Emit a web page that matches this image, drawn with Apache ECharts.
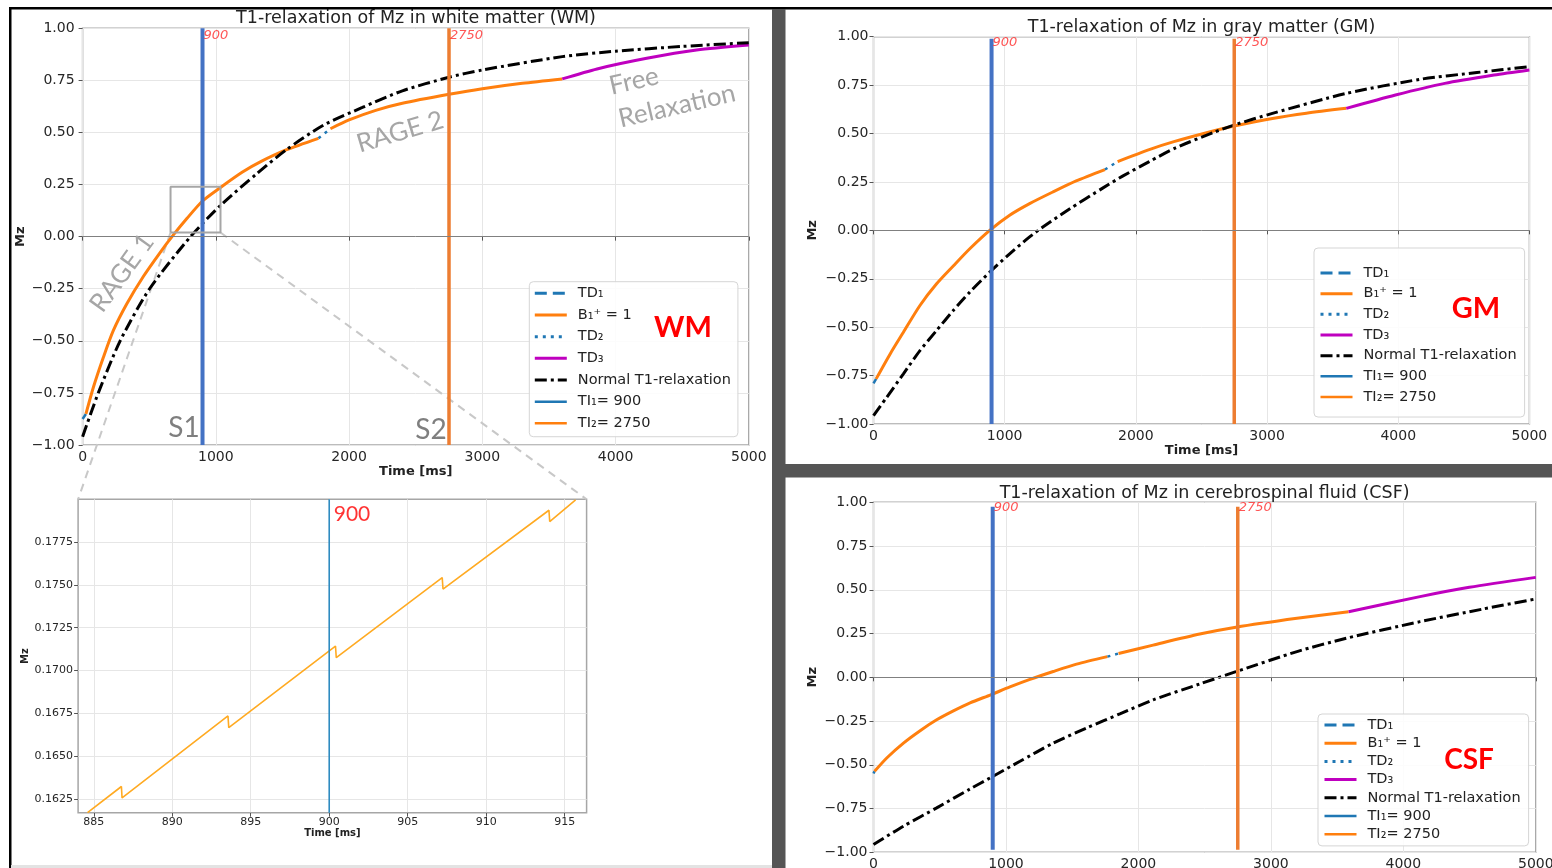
<!DOCTYPE html>
<html><head><meta charset="utf-8">
<script src="https://cdn.jsdelivr.net/npm/echarts@6/dist/echarts.min.js"></script>
<style>html,body{margin:0;padding:0;background:#fff}#c{width:1552px;height:868px}</style>
</head><body><div id="c"></div>
<script>
// ---------------- DATA ----------------
const inversionTimes = [900, 2750];
const axisTimeRange = [0, 5000];
const axisMzRange = [-1, 1];

// White matter (WM)
const wmNormalT  = [0, 118, 282, 503, 810, 1035, 1312, 1527, 1807, 2100, 2400, 2750, 3000, 3600, 4000, 4500, 5000];
const wmNormalMz = [-0.96, -0.75, -0.50, -0.25, 0.0, 0.15, 0.305, 0.416, 0.535, 0.62, 0.70, 0.765, 0.80, 0.864, 0.89, 0.913, 0.931];
const wmTD1T  = [0, 25];
const wmTD1Mz = [-0.875, -0.851];
const wmRage1T  = [25, 81, 156, 231, 332, 457, 583, 671, 784, 900, 1035, 1200, 1337, 1527, 1770];
const wmRage1Mz = [-0.851, -0.723, -0.579, -0.450, -0.322, -0.19, -0.075, 0.0, 0.088, 0.171, 0.236, 0.31, 0.36, 0.416, 0.472];
const wmTD2T  = [1770, 1860];
const wmTD2Mz = [0.472, 0.518];
const wmRage2T  = [1860, 2000, 2200, 2400, 2750, 3000, 3300, 3600];
const wmRage2Mz = [0.518, 0.56, 0.606, 0.64, 0.683, 0.71, 0.736, 0.757];
const wmTD3T  = [3600, 3861, 4234, 4608, 5000];
const wmTD3Mz = [0.757, 0.805, 0.856, 0.896, 0.92];
const wmTISpan = [-1, 1];

// Gray matter (GM)
const gmNormalT  = [0, 101, 228, 354, 481, 608, 734, 886, 1038, 1190, 1291, 1494, 1747, 1899, 2102, 2300, 2590, 2750, 3041, 3604, 4167, 4600, 5000];
const gmNormalMz = [-0.957, -0.862, -0.741, -0.621, -0.517, -0.414, -0.319, -0.216, -0.121, -0.034, 0.017, 0.11, 0.218, 0.28, 0.355, 0.425, 0.505, 0.544, 0.604, 0.707, 0.78, 0.815, 0.845];
const gmTD1T  = [0, 20];
const gmTD1Mz = [-0.79, -0.767];
const gmRage1T  = [20, 127, 228, 354, 481, 608, 734, 886, 1038, 1190, 1367, 1545, 1764];
const gmRage1Mz = [-0.767, -0.638, -0.526, -0.388, -0.276, -0.184, -0.095, 0.0, 0.078, 0.138, 0.198, 0.255, 0.314];
const gmTD2T  = [1764, 1861];
const gmTD2Mz = [0.314, 0.355];
const gmRage2T  = [1861, 2102, 2290, 2590, 2750, 3041, 3300, 3604];
const gmRage2Mz = [0.355, 0.417, 0.458, 0.513, 0.539, 0.578, 0.605, 0.63];
const gmTD3T  = [3604, 3979, 4355, 4730, 5000];
const gmTD3Mz = [0.63, 0.699, 0.759, 0.802, 0.828];
const gmTISpan = [-1, 0.99];

// Cerebrospinal fluid (CSF)
const csfNormalT  = [0, 226, 477, 729, 885, 1106, 1357, 1608, 1860, 2111, 2463, 2736, 3197, 3569, 4126, 4600, 5000];
const csfNormalMz = [-0.955, -0.851, -0.746, -0.638, -0.573, -0.48, -0.376, -0.29, -0.209, -0.129, -0.038, 0.032, 0.147, 0.223, 0.318, 0.39, 0.448];
const csfTD1T  = [0, 8];
const csfTD1Mz = [-0.55, -0.537];
const csfRage1T  = [8, 100, 226, 352, 477, 603, 729, 885, 1030, 1181, 1357, 1533, 1766];
const csfRage1Mz = [-0.537, -0.461, -0.376, -0.305, -0.243, -0.192, -0.146, -0.10, -0.055, -0.012, 0.033, 0.075, 0.118];
const csfTD2T  = [1766, 1850];
const csfTD2Mz = [0.118, 0.136];
const csfRage2T  = [1850, 2111, 2463, 2736, 3197, 3587];
const csfRage2Mz = [0.136, 0.184, 0.247, 0.286, 0.337, 0.375];
const csfTD3T  = [3587, 4126, 4498, 5000];
const csfTD3Mz = [0.375, 0.461, 0.514, 0.571];
const csfTISpan = [-0.985, 0.975];

// Zoomed inset (WM around TI1)
const insetT  = [884.6, 886.76, 886.8, 893.55, 893.6, 900.4, 900.45, 907.2, 907.25, 914.0, 914.05, 915.7];
const insetMz = [0.1617, 0.16323, 0.16256, 0.16735, 0.16667, 0.17143, 0.17075, 0.17543, 0.17476, 0.17936, 0.1787, 0.17997];
const insetXRange = [884, 916.4];
const insetYRange = [0.1617, 0.1800];
const insetXTicks = [885, 890, 895, 900, 905, 910, 915];
const insetYTicks = [0.1625, 0.1650, 0.1675, 0.1700, 0.1725, 0.1750, 0.1775];
const zoomBoxT  = [660, 1035];
const zoomBoxMz = [0.02, 0.24];

const mainXTicksInterval = 1000;
const mainYTicksInterval = 0.25;

// ---------------- STYLE ----------------
const FONT = 'DejaVu Sans';
const AFONT = 'Lato';
const C_ORANGE = '#ff7f0e', C_BLUE = '#1f77b4', C_MAG = '#bf00bf', C_TI1 = '#4472c4', C_TI2 = '#ed7d31';
const NAME_TD1 = 'TD\u2081', NAME_B1 = 'B\u2081\u207A = 1', NAME_TD2 = 'TD\u2082', NAME_TD3 = 'TD\u2083';
const NAME_NORM = 'Normal T1-relaxation';
const NAME_TI1 = 'TI\u2081= ' + inversionTimes[0], NAME_TI2 = 'TI\u2082= ' + inversionTimes[1];

const zip = (xs, ys) => xs.map((x, i) => [x, ys[i]]);
const fmtMz = v => (v < 0 ? '\u2212' : '') + Math.abs(v).toFixed(2);

function line(name, gi, data, color, width, type, extra) {
  return Object.assign({
    type: 'line', name, xAxisIndex: gi, yAxisIndex: gi, data,
    showSymbol: false, symbol: 'none', smooth: 0.25,
    lineStyle: { color, width, type, cap: 'butt' }, itemStyle: { color },
    emphasis: { disabled: true }, silent: true, animation: false, z: 3
  }, extra || {});
}

const panels = [
  { gi: 0, normal: [wmNormalT, wmNormalMz], td1: [wmTD1T, wmTD1Mz], r1: [wmRage1T, wmRage1Mz], td2: [wmTD2T, wmTD2Mz], r2: [wmRage2T, wmRage2Mz], td3: [wmTD3T, wmTD3Mz], span: wmTISpan, lblOff: 1 },
  { gi: 2, normal: [gmNormalT, gmNormalMz], td1: [gmTD1T, gmTD1Mz], r1: [gmRage1T, gmRage1Mz], td2: [gmTD2T, gmTD2Mz], r2: [gmRage2T, gmRage2Mz], td3: [gmTD3T, gmTD3Mz], span: gmTISpan, lblOff: 0 },
  { gi: 3, normal: [csfNormalT, csfNormalMz], td1: [csfTD1T, csfTD1Mz], r1: [csfRage1T, csfRage1Mz], td2: [csfTD2T, csfTD2Mz], r2: [csfRage2T, csfRage2Mz], td3: [csfTD3T, csfTD3Mz], span: csfTISpan, lblOff: -1 }
];

const series = [];
panels.forEach(p => {
  const gi = p.gi;
  series.push(line(NAME_TD1, gi, zip(...p.td1), C_BLUE, 2.5, 'dashed', {
    smooth: false,
    markLine: { silent: true, symbol: 'none', label: { show: false }, animation: false,
      lineStyle: { color: '#808080', width: 1, type: 'solid' }, data: [{ yAxis: 0 }] }
  }));
  series.push(line(NAME_B1, gi, zip(...p.r1), C_ORANGE, 3, 'solid'));
  series.push(line(NAME_TD2, gi, zip(...p.td2), C_BLUE, 2.5, [3, 5], { smooth: false }));
  series.push(line(NAME_B1, gi, zip(...p.r2), C_ORANGE, 3, 'solid'));
  series.push(line(NAME_TD3, gi, zip(...p.td3), C_MAG, 3, 'solid'));
  series.push(line(NAME_NORM, gi, zip(...p.normal), '#000000', 3, [12, 4, 3, 4]));
  series.push(line(NAME_TI1, gi, [[inversionTimes[0], p.span[0]], [inversionTimes[0], p.span[1]]], C_TI1, 4, 'solid', { smooth: false, z: 4 }));
  series.push(line(NAME_TI2, gi, [[inversionTimes[1], p.span[0]], [inversionTimes[1], p.span[1]]], C_TI2, 3.5, 'solid', { smooth: false, z: 4 }));
  series.push({
    type: 'scatter', xAxisIndex: gi, yAxisIndex: gi, silent: true, animation: false, z: 5,
    symbol: 'circle', symbolSize: 1, itemStyle: { color: 'rgba(0,0,0,0)' },
    data: inversionTimes.map(t => [t, axisMzRange[1]]),
    label: { show: true, position: [1.5, p.lblOff], align: 'left', verticalAlign: 'top',
      formatter: d => String(d.value[0]), color: '#ff2a2a', fontStyle: 'italic', fontSize: 13, fontFamily: FONT }
  });
});

// zoom box in WM
series.push(line('zoombox', 0,
  [[zoomBoxT[0], zoomBoxMz[0]], [zoomBoxT[1], zoomBoxMz[0]], [zoomBoxT[1], zoomBoxMz[1]], [zoomBoxT[0], zoomBoxMz[1]], [zoomBoxT[0], zoomBoxMz[0]]],
  '#a6a6a6', 2, 'solid', { smooth: false, z: 4 }));

// inset
series.push(line('inset', 1, zip(insetT, insetMz), '#ffaa22', 1.6, 'solid', { smooth: false }));
series.push(line('insetTI', 1, [[inversionTimes[0], insetYRange[0]], [inversionTimes[0], insetYRange[1]]], '#2e8bc0', 1.6, 'solid', { smooth: false, z: 4 }));
series.push({
  type: 'scatter', xAxisIndex: 1, yAxisIndex: 1, silent: true, animation: false, z: 5,
  symbol: 'circle', symbolSize: 1, itemStyle: { color: 'rgba(0,0,0,0)' },
  data: [[inversionTimes[0], insetYRange[1]]],
  label: { show: true, position: [5, 5], align: 'left', verticalAlign: 'top',
    formatter: d => String(d.value[0]), color: '#ff0000', fontSize: 21, fontFamily: AFONT }
});

// ---------------- AXES ----------------
const gridDefs = [
  { left: 82.6, top: 28.3, width: 666.2, height: 416.7 },
  { left: 78.1, top: 499.3, width: 508.5, height: 313.4 },
  { left: 873.5, top: 36.7, width: 655.9, height: 387.3 },
  { left: 873.5, top: 502.3, width: 662.3, height: 350 }
];
const grid = gridDefs.map(g => Object.assign({ show: true, borderColor: '#a6a6a6', borderWidth: 1.5, backgroundColor: 'transparent', containLabel: false, outerBoundsMode: 'none' }, g));

const tickStyle = { show: true, length: 4, lineStyle: { color: '#555', width: 1 } };
const splitStyle = { show: true, lineStyle: { color: '#e6e6e6', width: 1 } };
const nameStyle = (fs) => ({ fontFamily: FONT, fontWeight: 'bold', fontSize: fs, color: '#222' });

function mainX(gi, nameGap) {
  return { gridIndex: gi, type: 'value', min: axisTimeRange[0], max: axisTimeRange[1], interval: mainXTicksInterval,
    name: 'Time [ms]', nameLocation: 'middle', nameGap, nameTextStyle: nameStyle(13),
    axisLine: { show: false }, axisTick: tickStyle, splitLine: splitStyle,
    axisLabel: { fontFamily: FONT, fontSize: 14, color: '#262626', margin: 5, formatter: v => String(v) } };
}
function mainY(gi, nameGap, margin) {
  return { gridIndex: gi, type: 'value', min: axisMzRange[0], max: axisMzRange[1], interval: mainYTicksInterval,
    name: 'Mz', nameLocation: 'middle', nameGap, nameTextStyle: nameStyle(13),
    axisLine: { show: false }, axisTick: tickStyle, splitLine: splitStyle,
    axisLabel: { fontFamily: FONT, fontSize: 14, color: '#262626', margin, formatter: fmtMz } };
}
const xAxis = [
  mainX(0, 19),
  { gridIndex: 1, type: 'value', min: insetXRange[0], max: insetXRange[1],
    name: 'Time [ms]', nameLocation: 'middle', nameGap: 13, nameTextStyle: nameStyle(10),
    axisLine: { show: false }, axisTick: Object.assign({ customValues: insetXTicks }, tickStyle), splitLine: splitStyle,
    axisLabel: { customValues: insetXTicks, fontFamily: FONT, fontSize: 11, color: '#262626', margin: 4, formatter: v => String(v) } },
  mainX(2, 17),
  mainX(3, 18)
];
const yAxis = [
  mainY(0, 55, 8),
  { gridIndex: 1, type: 'value', min: insetYRange[0], max: insetYRange[1],
    name: 'Mz', nameLocation: 'middle', nameGap: 46, nameTextStyle: nameStyle(10),
    axisLine: { show: false }, axisTick: Object.assign({ customValues: insetYTicks }, tickStyle), splitLine: splitStyle,
    axisLabel: { customValues: insetYTicks, fontFamily: FONT, fontSize: 11, color: '#262626', margin: 5, formatter: v => v.toFixed(4) } },
  mainY(2, 54, 5),
  mainY(3, 54, 6)
];

// ---------------- LEGENDS ----------------
const legendData = [NAME_TD1, NAME_B1, NAME_TD2, NAME_TD3, NAME_NORM,
  { name: NAME_TI1, lineStyle: { color: C_BLUE, width: 2.5 } },
  { name: NAME_TI2, lineStyle: { color: C_ORANGE, width: 2.5 } }];
function legendCfg(left, top, gap, padding) {
  return { orient: 'vertical', left, top, itemGap: gap, itemWidth: 32, itemHeight: 14, padding,
    backgroundColor: 'rgba(255,255,255,0.85)', borderColor: '#d5d5d5', borderWidth: 1, borderRadius: 4,
    selectedMode: false, itemStyle: { opacity: 0 }, lineStyle: { width: 3 },
    textStyle: { fontFamily: FONT, fontSize: 14.5, color: '#222', lineHeight: 16, padding: [0, 0, 0, 6] },
    data: legendData };
}
const legend = [
  legendCfg(529.3, 281.7, 5.67, [3.6, 7, 5.4, 4]),
  legendCfg(1314, 248, 4.67, [17, 8, 12, 5]),
  legendCfg(1318, 714, 2.2, [3, 8, 3.7, 5])
];

const titleStyle = { fontFamily: FONT, fontSize: 17.5, fontWeight: 'normal', color: '#222' };
const title = [
  { text: 'T1-relaxation of Mz in white matter (WM)', left: 416, top: 9, textAlign: 'center', padding: 0, textStyle: titleStyle },
  { text: 'T1-relaxation of Mz in gray matter (GM)', left: 1201.5, top: 18, textAlign: 'center', padding: 0, textStyle: titleStyle },
  { text: 'T1-relaxation of Mz in cerebrospinal fluid (CSF)', left: 1204.6, top: 484, textAlign: 'center', padding: 0, textStyle: titleStyle }
];

const chart = echarts.init(document.getElementById('c'), null, { renderer: 'canvas', width: 1552, height: 868 });
chart.setOption({ animation: false, backgroundColor: '#ffffff', title, legend, grid, xAxis, yAxis, series });

// ---------------- DECORATION ----------------
const bl = chart.convertToPixel({ gridIndex: 0 }, [zoomBoxT[0], zoomBoxMz[0]]);
const br = chart.convertToPixel({ gridIndex: 0 }, [zoomBoxT[1], zoomBoxMz[0]]);
const itl = chart.convertToPixel({ gridIndex: 1 }, [insetXRange[0], insetYRange[1]]);
const itr = chart.convertToPixel({ gridIndex: 1 }, [insetXRange[1], insetYRange[1]]);

function txt(text, x, y, rotDeg, size, color, weight) {
  return { type: 'text', x, y, rotation: rotDeg * Math.PI / 180, silent: true, z: 6,
    style: { text, fontFamily: AFONT, fontSize: size, fontWeight: weight || 'normal', fill: color, align: 'center', verticalAlign: 'middle' } };
}
const graphic = [
  { type: 'rect', silent: true, z: 10, shape: { x: 9, y: 7, width: 1543, height: 2.5 }, style: { fill: '#000' } },
  { type: 'rect', silent: true, z: 10, shape: { x: 9, y: 7, width: 2.5, height: 861 }, style: { fill: '#000' } },
  { type: 'rect', silent: true, z: 10, shape: { x: 772, y: 9, width: 13.5, height: 859 }, style: { fill: '#555555' } },
  { type: 'rect', silent: true, z: 10, shape: { x: 785, y: 464, width: 767, height: 13.5 }, style: { fill: '#555555' } },
  { type: 'rect', silent: true, z: 10, shape: { x: 11, y: 865, width: 761, height: 3 }, style: { fill: '#e3e3e3' } },
  { type: 'line', silent: true, z: 1, shape: { x1: bl[0], y1: bl[1], x2: itl[0], y2: itl[1] }, style: { stroke: '#c8c8c8', lineWidth: 2, lineDash: [8, 6] } },
  { type: 'line', silent: true, z: 1, shape: { x1: br[0], y1: br[1], x2: itr[0], y2: itr[1] }, style: { stroke: '#c8c8c8', lineWidth: 2, lineDash: [8, 6] } },
  txt('RAGE 1', 122, 273, 54, 26, '#a6a6a6'),
  txt('RAGE 2', 400, 132, 16.5, 26, '#a6a6a6'),
  txt('Free', 634, 81, 13, 26, '#a6a6a6'),
  txt('Relaxation', 677, 106, 13, 26, '#a6a6a6'),
  txt('S1', 184, 428, 0, 28, '#7f7f7f'),
  txt('S2', 431, 430, 0, 28, '#7f7f7f'),
  txt('WM', 683, 328, 0, 29, '#ff0000', 'bold'),
  txt('GM', 1476, 309, 0, 29, '#ff0000', 'bold'),
  txt('CSF', 1469, 760, 0, 28, '#ff0000', 'bold')
];
chart.setOption({ graphic });
</script></body></html>
